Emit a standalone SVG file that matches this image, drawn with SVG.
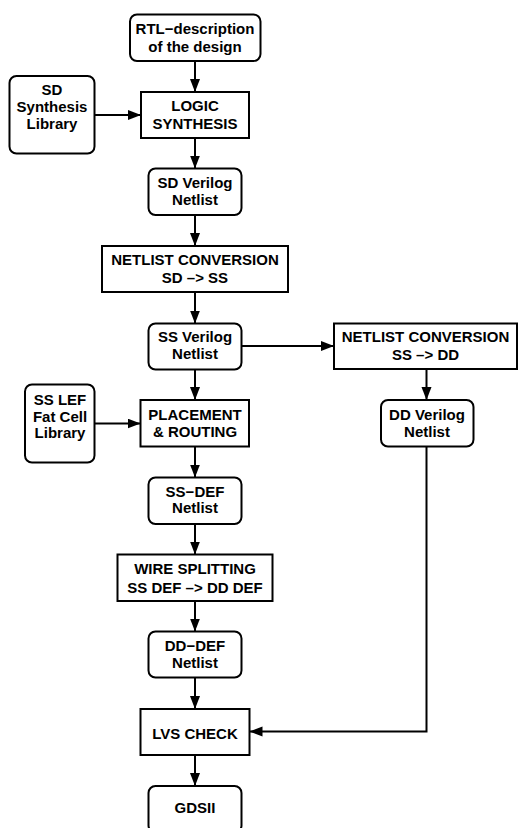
<svg xmlns="http://www.w3.org/2000/svg" width="518" height="828" viewBox="0 0 518 828">
<defs>
<marker id="ah" markerUnits="userSpaceOnUse" markerWidth="14" markerHeight="11" refX="13" refY="5" orient="auto">
<path d="M0,0 L13,5 L0,10 z" fill="#000"/>
</marker>
<style>
rect{fill:#fff;stroke:#000;stroke-width:2}
text{font-family:"Liberation Sans",Arial,sans-serif;font-weight:bold;font-size:15px;text-anchor:middle;fill:#000}
#connectors path{fill:none;stroke:#000;stroke-width:2;marker-end:url(#ah)}
</style>
</defs>
<rect x="0" y="0" width="518" height="828" style="fill:#fff;stroke:none"/>
<g id="connectors">
<path d="M195,61 V92"/>
<path d="M95,115 H141"/>
<path d="M195,138 V168.5"/>
<path d="M195,215 V246"/>
<path d="M195,292 V323.5"/>
<path d="M241.5,346 H334"/>
<path d="M426.5,369 V400"/>
<path d="M195,369.5 V400"/>
<path d="M95,423.5 H140.5"/>
<path d="M195,447 V477.5"/>
<path d="M195,524 V554.5"/>
<path d="M195,601 V631.5"/>
<path d="M195,677.5 V709"/>
<path d="M426.5,447 V731.5 H249.5"/>
<path d="M195,755 V786"/>
</g>
<g id="rtl"><rect x="130" y="14.5" width="130.5" height="46.5" rx="7"/><text x="195" y="34">RTL−description</text><text x="195" y="52">of the design</text></g>
<g id="sdlib"><rect x="9.5" y="76" width="85" height="77.5" rx="7"/><text x="52" y="95">SD</text><text x="52" y="112">Synthesis</text><text x="52" y="129">Library</text></g>
<g id="logic"><rect x="141" y="92" width="108" height="46"/><text x="195" y="111">LOGIC</text><text x="195" y="129">SYNTHESIS</text></g>
<g id="sdverilog"><rect x="148.5" y="168.5" width="93" height="46.5" rx="7"/><text x="195" y="188">SD Verilog</text><text x="195" y="205">Netlist</text></g>
<g id="nc1"><rect x="102" y="246" width="186" height="46"/><text x="195" y="265">NETLIST CONVERSION</text><text x="195" y="283">SD –&gt; SS</text></g>
<g id="ssverilog"><rect x="148.5" y="323.5" width="93" height="46" rx="7"/><text x="195" y="342">SS Verilog</text><text x="195" y="359">Netlist</text></g>
<g id="nc2"><rect x="334" y="323.5" width="183" height="45.5"/><text x="425.5" y="342">NETLIST CONVERSION</text><text x="425.5" y="360">SS –&gt; DD</text></g>
<g id="ddverilog"><rect x="381" y="400" width="92.5" height="46.5" rx="7"/><text x="427" y="420">DD Verilog</text><text x="427" y="437">Netlist</text></g>
<g id="sslef"><rect x="25" y="384.5" width="69.5" height="78" rx="7"/><text x="60" y="405">SS LEF</text><text x="60" y="421.5">Fat Cell</text><text x="60" y="438">Library</text></g>
<g id="pr"><rect x="140.5" y="400" width="108.5" height="46.5"/><text x="195" y="419.5">PLACEMENT</text><text x="195" y="437">&amp; ROUTING</text></g>
<g id="ssdef"><rect x="148.5" y="477.5" width="93" height="46.5" rx="7"/><text x="195" y="497">SS−DEF</text><text x="195" y="513">Netlist</text></g>
<g id="wire"><rect x="117.5" y="554.5" width="155" height="46.5"/><text x="195" y="574">WIRE SPLITTING</text><text x="195" y="592.5">SS DEF –&gt; DD DEF</text></g>
<g id="dddef"><rect x="148.5" y="631.5" width="93" height="46" rx="7"/><text x="195" y="651">DD−DEF</text><text x="195" y="668">Netlist</text></g>
<g id="lvs"><rect x="140.5" y="709" width="109" height="46"/><text x="195" y="739">LVS CHECK</text></g>
<g id="gdsii"><rect x="148.5" y="786" width="93" height="46.5" rx="7"/><text x="195" y="813">GDSII</text></g>
</svg>
